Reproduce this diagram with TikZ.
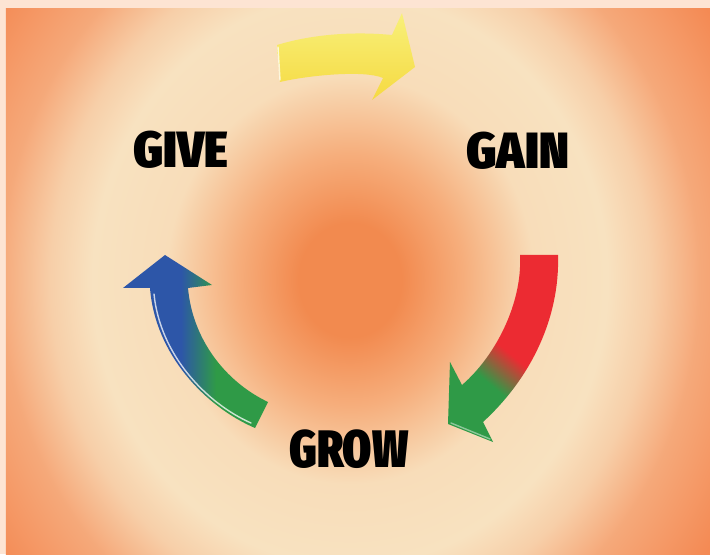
\documentclass[tikz,border=0pt]{standalone}
\usepackage{fontspec}
\usepackage{graphicx}
\IfFontExistsTF{Fira Sans Extra Condensed Black}
  {\newfontfamily\heavyfont{Fira Sans Extra Condensed Black}\def\heavyweight{}\def\wordsqueeze{1}}
  {\IfFontExistsTF{Fira Sans Condensed Black}
    {\newfontfamily\heavyfont{Fira Sans Condensed Black}\def\heavyweight{}\def\wordsqueeze{.9}}
    {\IfFontExistsTF{Fira Sans Black}
      {\newfontfamily\heavyfont{Fira Sans Black}\def\heavyweight{}\def\wordsqueeze{.8}}
      {\newfontfamily\heavyfont{Liberation Sans}[BoldFeatures={FakeBold=3}]\def\heavyweight{\bfseries}\def\wordsqueeze{.8}}}}
\definecolor{framepeach}{HTML}{FDE4D3}
\definecolor{glowcore}{HTML}{F28A4F}
\definecolor{glowmid}{HTML}{F6AE7C}
\definecolor{glowcream}{HTML}{F8E2C0}
\definecolor{glowedge}{HTML}{F48A54}
\definecolor{arrowyellow}{HTML}{F4E64A}
\definecolor{arrowyellowlight}{HTML}{F8F07A}
\definecolor{arrowred}{HTML}{EC2B32}
\definecolor{arrowgreen}{HTML}{2F9A47}
\definecolor{arrowblue}{HTML}{2D56A8}
\pgfdeclareradialshading{bgglow}{\pgfpoint{0bp}{0bp}}{color(0bp)=(glowcore); color(2.8bp)=(glowcore); color(6.2bp)=(glowmid); color(10bp)=(glowcream!90!glowmid); color(14bp)=(glowcream); color(16.3bp)=(glowcream!78!glowedge); color(19bp)=(glowedge!65!glowcream); color(23.5bp)=(glowedge); color(50bp)=(glowedge)}
\pgfdeclareverticalshading{redgreen}{100bp}{color(0bp)=(arrowgreen); color(38bp)=(arrowgreen); color(50bp)=(arrowred); color(100bp)=(arrowred)}
\pgfdeclarehorizontalshading{bluegreen}{100bp}{color(0bp)=(arrowblue); color(45bp)=(arrowblue); color(57bp)=(arrowgreen); color(100bp)=(arrowgreen)}

\begin{document}
\begin{tikzpicture}[
    wordtag/.style={font=\heavyfont\heavyweight\fontsize{29}{29}\selectfont, text=black, inner sep=0pt},
    glint/.style={white, line width=.8pt, opacity=.75, line cap=round}]
  \useasboundingbox (0,0) rectangle (14.2,11.08);
  \fill[framepeach] (0,0) rectangle (14.2,11.08);
  \begin{scope}
    \clip (0.12,0) rectangle (14.2,10.9);
    \shade[shading=bgglow] (7,5.48) ellipse[x radius=9.2, y radius=10.2];
  \end{scope}
  % yellow arrow: give -> gain
  \shade[top color=arrowyellowlight, bottom color=arrowyellow!88!orange]
    (5.54,10.18) .. controls (6.2,10.38) and (7.0,10.46) .. (7.84,10.38)
    -- (8.04,10.82) -- (8.30,9.74) -- (7.44,9.08) -- (7.66,9.52)
    .. controls (7.3,9.68) and (6.2,9.58) .. (5.60,9.44) -- cycle;
  \draw[glint] (5.60,9.48) -- (5.56,10.14);
  % red arrow: gain -> grow
  \shade[shading=redgreen, shading angle=-40]
    (10.40,5.98) -- (11.16,5.98) .. controls (11.2,4.7) and (10.6,3.5) .. (9.66,2.64)
    -- (9.86,2.24) -- (8.96,2.60) -- (9.00,3.84) -- (9.24,3.38)
    .. controls (9.9,3.95) and (10.45,5.0) .. (10.40,5.98) -- cycle;
  \draw[glint, white!60!arrowgreen] (9.02,2.62) -- (9.80,2.30);
  % blue arrow: grow -> give
  \shade[shading=bluegreen]
    (3.30,5.98) -- (4.24,5.38) -- (3.76,5.32)
    .. controls (3.85,4.3) and (4.5,3.45) .. (5.36,3.04)
    -- (5.10,2.52) .. controls (4.1,2.95) and (3.1,4.0) .. (3.00,5.32)
    -- (2.46,5.32) -- cycle;
  \draw[glint] (5.02,2.62) .. controls (4.1,3.03) and (3.2,4.0) .. (3.08,5.2);
  \node[wordtag] (give) at (3.62,8.08) {\scalebox{\wordsqueeze}[1]{\scalebox{1.07}[1]{GIVE}}};
  \node[wordtag] (gain) at (10.35,8.06) {\scalebox{\wordsqueeze}[1]{\scalebox{1.08}[1]{GAIN}}};
  \node[wordtag, font=\heavyfont\heavyweight\fontsize{30}{30}\selectfont] (grow) at (6.98,2.10) {\scalebox{\wordsqueeze}[1]{\scalebox{.95}[1]{GROW}}};
\end{tikzpicture}
\end{document}
